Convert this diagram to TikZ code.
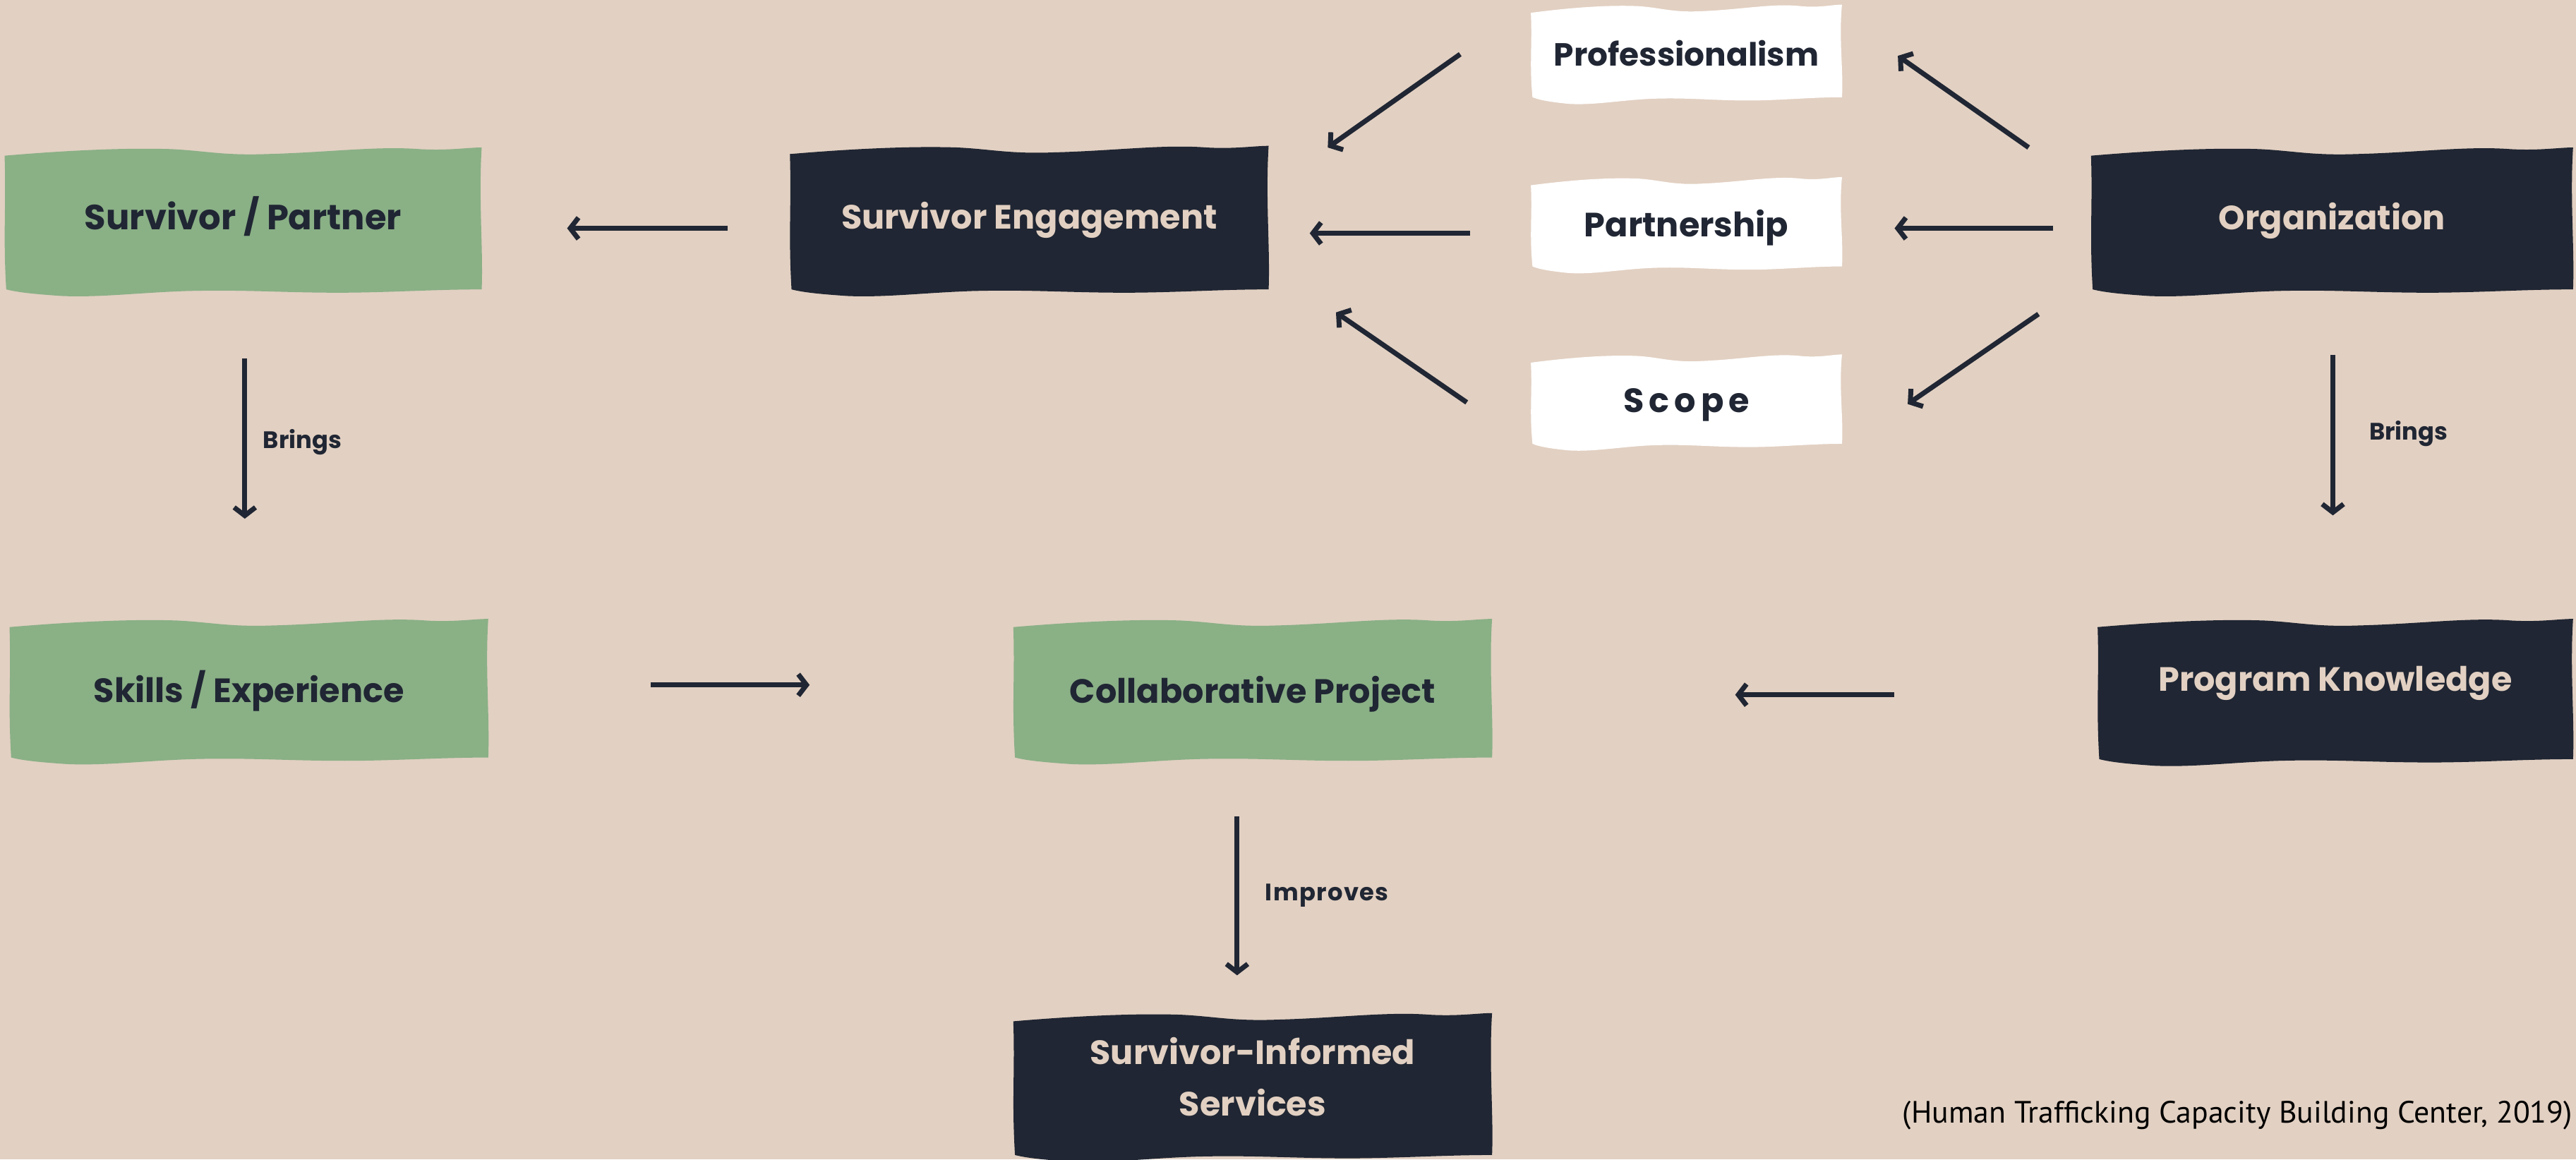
\documentclass[tikz,border=0pt]{standalone}
\usepackage{fontspec}
\setmainfont{Poppins}
\newfontfamily\citefont{PT Sans}
\usetikzlibrary{arrows.meta,calc}
\definecolor{bg}{HTML}{E2D0C2}
\definecolor{grn}{HTML}{8AB086}
\definecolor{ink}{HTML}{202633}
\pgfdeclarelayer{bglayer}
\pgfsetlayers{bglayer,main}
\newcommand\lift[2]{\raisebox{#1}[\height][\depth]{#2}}
\tikzset{
  card/.style={inner sep=0pt, align=center, font=\fontsize{20.5}{31}\selectfont\bfseries},
  lightcard/.style={card, text=ink},
  darkcard/.style={card, text=bg},
  lbl/.style={inner sep=0pt, text=ink, font=\fontsize{14.5}{17}\selectfont\bfseries},
  arr/.style={draw=ink, line width=3pt, line cap=butt, -{Straight Barb[length=5pt,width=13pt]}},
}
\newcommand\wavyfill[2]{%
  \begin{pgfonlayer}{bglayer}
  \fill[#2] let \p1=(#1.north west), \p2=(#1.south east), \n1={\x2-\x1}, \n2={\y1-\y2} in
    ({\x1},{\y1-3pt})
    .. controls ({\x1+0.12*\n1},{\y1}) and ({\x1+0.25*\n1},{\y1+2pt}) .. ({\x1+0.35*\n1},{\y1+1pt})
    .. controls ({\x1+0.42*\n1},{\y1}) and ({\x1+0.46*\n1},{\y1-3pt}) .. ({\x1+0.55*\n1},{\y1-2pt})
    .. controls ({\x1+0.68*\n1},{\y1-1pt}) and ({\x1+0.78*\n1},{\y1+3pt}) .. ({\x1+0.87*\n1},{\y1+1pt})
    .. controls ({\x1+0.93*\n1},{\y1}) and ({\x1+0.97*\n1},{\y1+2pt}) .. ({\x2},{\y1+2pt})
    .. controls ({\x2-2pt},{\y1-0.35*\n2}) and ({\x2+1pt},{\y1-0.7*\n2}) .. ({\x2},{\y2+1pt})
    .. controls ({\x2-0.1*\n1},{\y2+1pt}) and ({\x2-0.2*\n1},{\y2-1pt}) .. ({\x2-0.3*\n1},{\y2-1pt})
    .. controls ({\x2-0.42*\n1},{\y2-1pt}) and ({\x2-0.5*\n1},{\y2+1pt}) .. ({\x2-0.62*\n1},{\y2})
    .. controls ({\x2-0.72*\n1},{\y2-1pt}) and ({\x2-0.8*\n1},{\y2-4pt}) .. ({\x2-0.88*\n1},{\y2-3pt})
    .. controls ({\x1+0.07*\n1},{\y2-2pt}) and ({\x1+0.03*\n1},{\y2-1pt}) .. ({\x1+1pt},{\y2+1pt})
    .. controls ({\x1-1pt},{\y2+0.4*\n2}) and ({\x1+1pt},{\y1-0.4*\n2}) .. cycle;
  \end{pgfonlayer}}
\begin{document}
\begin{tikzpicture}[x=1pt,y=-1pt]
\begin{pgfonlayer}{bglayer}
\fill[bg] (0,0) rectangle (1568,706);
\end{pgfonlayer}
\useasboundingbox (0,0) rectangle (1568,706);

% nodes
\node[lightcard, minimum width=290pt, minimum height=85pt] (sp) at (148,134.5) {\lift{3pt}{\fontsize{21.3}{31}\selectfont Survivor / Partner}};
\node[darkcard, minimum width=291pt, minimum height=86pt] (se) at (626.5,134) {Survivor Engagement};
\node[lightcard, minimum width=189pt, minimum height=55pt] (prof) at (1026.5,32.5) {\fontsize{19.5}{24}\selectfont Professionalism};
\node[lightcard, minimum width=189pt, minimum height=53pt] (part) at (1026.5,136.5) {\lift{-2pt}{Partnership}};
\node[lightcard, minimum width=189pt, minimum height=53pt] (scope) at (1026.5,244.5) {\lift{-2pt}{\addfontfeature{LetterSpace=15}Scope}};
\node[darkcard, minimum width=293pt, minimum height=85pt] (org) at (1419.5,134.5) {Organization};
\node[lightcard, minimum width=291pt, minimum height=83pt] (skills) at (151.5,420.5) {Skills / Experience};
\node[lightcard, minimum width=291pt, minimum height=83pt] (collab) at (762.5,420.5) {\lift{-2pt}{Collaborative Project}};
\node[darkcard, minimum width=289pt, minimum height=84pt] (prog) at (1421.5,421) {\lift{5pt}{Program Knowledge}};
\node[darkcard, minimum width=291pt, minimum height=85pt] (serv) at (762.5,661.5) {\lift{4pt}{\begin{tabular}{@{}c@{}}Survivor-Informed\\Services\end{tabular}}};

\wavyfill{sp}{grn}
\wavyfill{se}{ink}
\wavyfill{prof}{white}
\wavyfill{part}{white}
\wavyfill{scope}{white}
\wavyfill{org}{ink}
\wavyfill{skills}{grn}
\wavyfill{collab}{grn}
\wavyfill{prog}{ink}
\wavyfill{serv}{ink}

% connectors
\draw[arr] ($(se.west)+(-38,5)$) -- ($(sp.east)+(52,4.5)$);
\draw[arr] ($(prof.west)+(-43,0.5)$) -- ($(se.north east)+(36,-1)$);
\draw[arr] ($(part.west)+(-37,5.5)$) -- ($(se.east)+(25,8)$);
\draw[arr] ($(scope.west)+(-39,0.5)$) -- ($(se.south east)+(41,13)$);
\draw[arr] ($(org.north west)+(-38,-2)$) -- ($(prof.east)+(34,1.5)$);
\draw[arr] ($(org.west)+(-23,4.5)$) -- ($(part.east)+(32,2.5)$);
\draw[arr] ($(org.south west)+(-32,14)$) -- ($(scope.east)+(40,1.5)$);
\draw[arr] ($(org.south)+(0.5,39)$) -- ($(prog.north)+(-1.5,-65)$);
\draw[arr] ($(sp.south)+(1,41)$) -- ($(skills.north)+(-2.5,-63)$);
\draw[arr] ($(skills.east)+(99,-3.5)$) -- ($(collab.west)+(-124,-3.5)$);
\draw[arr] ($(prog.west)+(-124,2)$) -- ($(collab.east)+(148,2.5)$);
\draw[arr] ($(collab.south)+(-9.5,35)$) -- ($(serv.north)+(-9.5,-25)$);

% labels
\node[lbl, anchor=west] (brl) at (160,269) {Brings};
\node[lbl, anchor=west] (brr) at (1442,264) {Brings};
\node[lbl, anchor=west] (imp) at (770,545) {\addfontfeature{LetterSpace=4}Improves};
\node[anchor=east, inner sep=0pt, text=black, font=\citefont\fontsize{18.8}{22}\selectfont] (cite) at (1566,679) {(Human Trafficking Capacity Building Center, 2019)};
\end{tikzpicture}
\end{document}
